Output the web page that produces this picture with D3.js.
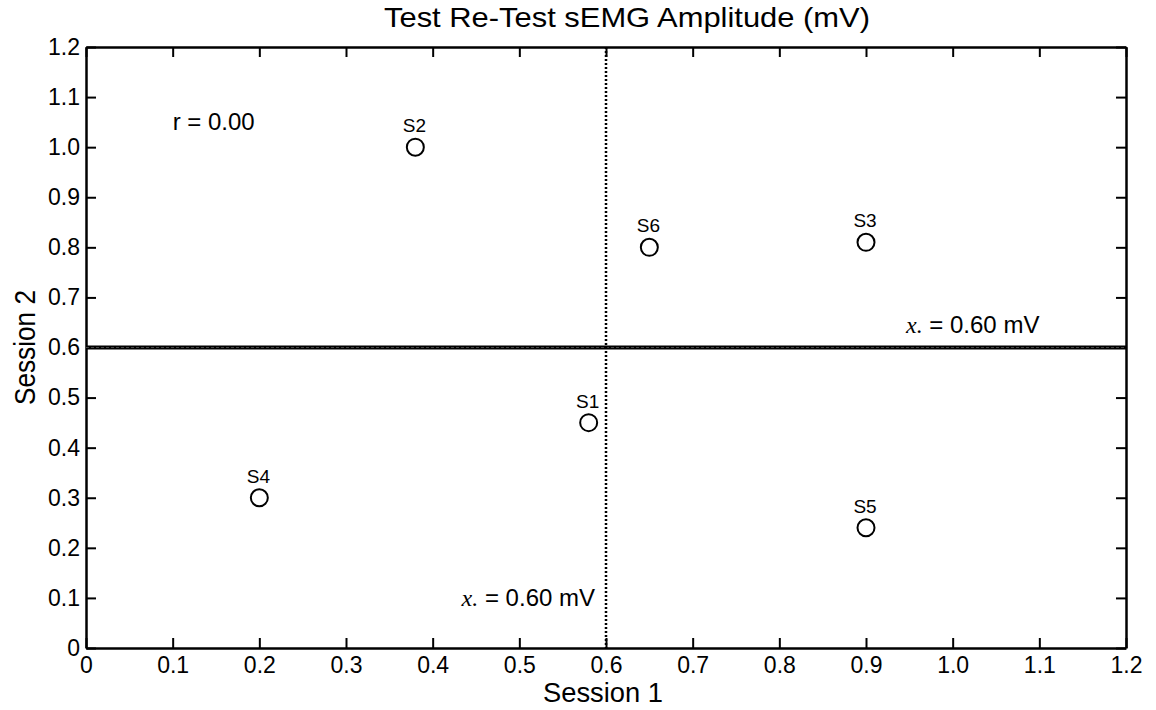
<!DOCTYPE html>
<html>
<head>
<meta charset="utf-8">
<script src="https://cdn.jsdelivr.net/npm/d3@7"></script>
<style>
  body { margin: 0; background: #fff; }
  text { font-family: "Liberation Sans", Arial, sans-serif; fill: #000; }
</style>
</head>
<body>
<svg id="chart"></svg>
<script>
// Data
const subjects = ["S1", "S2", "S3", "S4", "S5", "S6"];
const session1 = [0.58, 0.38, 0.90, 0.20, 0.90, 0.65];
const session2 = [0.45, 1.00, 0.81, 0.30, 0.24, 0.80];
const xTicks = [0, 0.1, 0.2, 0.3, 0.4, 0.5, 0.6, 0.7, 0.8, 0.9, 1.0, 1.1, 1.2];
const yTicks = [0, 0.1, 0.2, 0.3, 0.4, 0.5, 0.6, 0.7, 0.8, 0.9, 1.0, 1.1, 1.2];
const meanSession1 = 0.60;
const meanSession2 = 0.60;
const rValue = "r = 0.00";

// Set dimensions and margins
const margin = { top: 47, right: 30, bottom: 62, left: 86 };
const width = 1156 - margin.left - margin.right;
const height = 710 - margin.top - margin.bottom;

const svg = d3.select("#chart")
  .attr("width", 1156)
  .attr("height", 710);

const g = svg.append("g")
  .attr("transform", `translate(${margin.left}, ${margin.top})`);

// Scales
const x = d3.scaleLinear().domain([0, 1.2]).range([0, width]);
const y = d3.scaleLinear().domain([0, 1.2]).range([height, 0]);

const fmt = d => d === 0 ? "0" : d3.format(".1f")(d);

// Axes with inward ticks (bottom/left labelled, top/right bare)
const xAxis = g.append("g")
  .attr("transform", `translate(0, ${height})`)
  .call(d3.axisBottom(x).tickValues(xTicks).tickFormat(fmt).tickSizeInner(-10).tickSizeOuter(0).tickPadding(9));
const yAxis = g.append("g")
  .call(d3.axisLeft(y).tickValues(yTicks).tickFormat(fmt).tickSizeInner(-10).tickSizeOuter(0).tickPadding(6));
const xTop = g.append("g")
  .call(d3.axisTop(x).tickValues(xTicks).tickFormat("").tickSizeInner(-10).tickSizeOuter(0));
const yRight = g.append("g")
  .attr("transform", `translate(${width}, 0)`)
  .call(d3.axisRight(y).tickValues(yTicks).tickFormat("").tickSizeInner(-10).tickSizeOuter(0));

[xAxis, yAxis, xTop, yRight].forEach(a => {
  a.selectAll("path").attr("stroke", "#000").attr("stroke-width", 2.5);
  a.selectAll("line").attr("stroke", "#000").attr("stroke-width", 2);
  a.selectAll("text").style("font-size", "23px").attr("fill", "#000");
});
// tick text for d3.axisLeft is positioned from the tick end; inward ticks need this
yAxis.selectAll("text").attr("x", -6);
xAxis.selectAll("text").attr("y", 9);

// Mean lines
g.append("line")
  .attr("x1", 0).attr("x2", width)
  .attr("y1", y(meanSession2)).attr("y2", y(meanSession2))
  .attr("stroke", "#000").attr("stroke-width", 4);
g.append("line")
  .attr("x1", 0).attr("x2", width)
  .attr("y1", y(meanSession2)).attr("y2", y(meanSession2))
  .attr("stroke", "#555").attr("stroke-width", 0.8).attr("stroke-dasharray", "3,2");

g.append("line")
  .attr("x1", x(meanSession1)).attr("x2", x(meanSession1))
  .attr("y1", 0).attr("y2", height)
  .attr("stroke", "#000").attr("stroke-width", 2.5).attr("stroke-dasharray", "2,2");

// Mean labels
function meanLabel(px, py, anchor, value) {
  const t = g.append("text")
    .attr("x", px).attr("y", py)
    .attr("text-anchor", anchor)
    .style("font-size", "24px");
  t.append("tspan")
    .style("font-family", "'Liberation Serif', serif")
    .style("font-style", "italic")
    .text("x.");
  t.append("tspan").text(` = ${value.toFixed(2)} mV`);
}
meanLabel(x(meanSession1) - 11, y(0.1) + 8, "end", meanSession1);
meanLabel(x(0.9) + 40, y(meanSession2) - 15, "start", meanSession2);

// Correlation label
g.append("text")
  .attr("x", x(0.1)).attr("y", y(1.05) + 8)
  .style("font-size", "24px")
  .text(rValue);

// Points
const pts = subjects.map((s, i) => ({ name: s, s1: session1[i], s2: session2[i] }));

g.selectAll(".pt")
  .data(pts)
  .enter()
  .append("circle")
  .attr("class", "pt")
  .attr("cx", d => x(d.s1))
  .attr("cy", d => y(d.s2))
  .attr("r", 8.5)
  .attr("fill", "none")
  .attr("stroke", "#000")
  .attr("stroke-width", 2);

g.selectAll(".lbl")
  .data(pts)
  .enter()
  .append("text")
  .attr("class", "lbl")
  .attr("x", d => x(d.s1) - 1)
  .attr("y", d => y(d.s2) - 15)
  .attr("text-anchor", "middle")
  .style("font-size", "19px")
  .text(d => d.name);

// Title and axis labels
svg.append("text")
  .attr("x", 627)
  .attr("y", 27)
  .attr("text-anchor", "middle")
  .attr("textLength", 486)
  .attr("lengthAdjust", "spacingAndGlyphs")
  .style("font-size", "28px")
  .text("Test Re-Test sEMG Amplitude (mV)");

svg.append("text")
  .attr("x", margin.left + width / 2 - 3)
  .attr("y", 702)
  .attr("text-anchor", "middle")
  .attr("textLength", 120)
  .attr("lengthAdjust", "spacingAndGlyphs")
  .style("font-size", "27px")
  .text("Session 1");

svg.append("text")
  .attr("transform", `translate(35, ${margin.top + height / 2}) rotate(-90)`)
  .attr("text-anchor", "middle")
  .attr("textLength", 115)
  .attr("lengthAdjust", "spacingAndGlyphs")
  .style("font-size", "29px")
  .text("Session 2");
</script>
</body>
</html>
